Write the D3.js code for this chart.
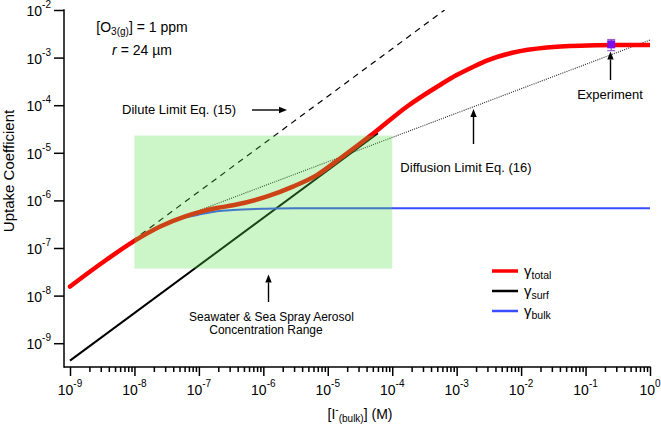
<!DOCTYPE html>
<html><head><meta charset="utf-8">
<script src="https://cdn.jsdelivr.net/npm/d3@7"></script>
<style>
body{margin:0;background:#fff}
svg{display:block}
text{font-family:"Liberation Sans",Arial,Helvetica,sans-serif;fill:#000}
</style>
</head><body>
<svg id="chart" width="661" height="431"></svg>
<script>
// ---------------- data ----------------
const xTickExponents = [-9,-8,-7,-6,-5,-4,-3,-2,-1,0];
const yTickExponents = [-9,-8,-7,-6,-5,-4,-3,-2];

// gamma_total (red)
const totalConc  = [1e-9, 3.16e-9, 1e-8, 2.51e-8, 6.31e-8, 1.05e-7, 1.9e-7, 3.39e-7, 1.12e-6, 2.88e-6, 6.76e-6, 1.55e-5, 5.13e-5, 1.68e-4, 5.5e-4, 1e-3, 1.82e-3, 3.16e-3, 7.6e-3, 2.51e-2, 8.2e-2, 0.316, 1];
const totalGamma = [1.55e-8, 4.9e-8, 1.41e-7, 2.82e-7, 4.68e-7, 5.75e-7, 6.92e-7, 7.9e-7, 1.2e-6, 1.95e-6, 3.4e-6, 7.6e-6, 2.57e-5, 9.3e-5, 2.66e-4, 4.3e-4, 6.45e-4, 9.0e-4, 1.28e-3, 1.63e-3, 1.78e-3, 1.83e-3, 1.84e-3];

// gamma_bulk (blue)
const bulkConc  = [1e-9, 3.16e-9, 1e-8, 2.51e-8, 6.31e-8, 1.05e-7, 1.9e-7, 3.39e-7, 1.12e-6, 3.16e-6, 1e-4, 1];
const bulkGamma = [1.55e-8, 4.9e-8, 1.38e-7, 2.75e-7, 4.4e-7, 5.1e-7, 5.9e-7, 6.3e-7, 6.7e-7, 6.84e-7, 6.84e-7, 6.84e-7];

// gamma_surf (black)
const surfConc  = [1e-9, 6e-5];
const surfGamma = [4.3e-10, 2.58e-5];

// Dilute limit Eq. (15) (dashed)
const diluteConc  = [1e-9, 6.5e-4];
const diluteGamma = [1.53e-8, 1e-2];

// Diffusion limit Eq. (16) (dotted)
const diffConc  = [7.8e-8, 1];
const diffGamma = [5.4e-7, 2.34e-3];

// Seawater & sea spray aerosol range (green box)
const seawaterConc  = [1e-8, 1e-4];
const seawaterGamma = [3.7e-8, 2.3e-5];

// Experiment
const expConc  = [0.25];
const expGamma = [1.9e-3];
const expErr   = [0.5e-3];

// ---------------- chart ----------------
const svg = d3.select("#chart");
const x = d3.scaleLog().domain([1e-9, 1]).range([70, 650]);
const y = d3.scaleLog().domain([Math.pow(10, -9.5), 1e-2]).range([367, 10]);
const X0 = 64, Y0 = 367;

const zip = (a, b) => a.map((v, i) => [v, b[i]]);
const line = d3.line().x(d => x(d[0])).y(d => y(d[1]));
const smooth = d3.line().x(d => x(d[0])).y(d => y(d[1])).curve(d3.curveMonotoneX);

svg.append("defs").append("clipPath").attr("id","clip")
  .append("rect").attr("x", X0).attr("y", 10).attr("width", 650 - X0).attr("height", Y0 - 10);
const plot = svg.append("g").attr("clip-path", "url(#clip)");

plot.append("path").datum(zip(diluteConc, diluteGamma)).attr("d", line)
  .attr("fill","none").attr("stroke","#000").attr("stroke-width",1.2).attr("stroke-dasharray","6,5");
plot.append("path").datum(zip(diffConc, diffGamma)).attr("d", line)
  .attr("fill","none").attr("stroke","#222").attr("stroke-width",1.1).attr("stroke-dasharray","1,1.2");
plot.append("path").datum(zip(surfConc, surfGamma)).attr("d", line)
  .attr("fill","none").attr("stroke","#000").attr("stroke-width",2);
plot.append("path").datum(zip(bulkConc, bulkGamma)).attr("d", smooth)
  .attr("fill","none").attr("stroke","#3a4cff").attr("stroke-width",2);
plot.append("path").datum(zip(totalConc, totalGamma)).attr("d", smooth)
  .attr("fill","none").attr("stroke","#ff0000").attr("stroke-width",4.5).attr("stroke-linecap","round");

// green range box (translucent, on top)
plot.append("rect")
  .attr("x", x(seawaterConc[0])).attr("y", y(seawaterGamma[1]))
  .attr("width", x(seawaterConc[1]) - x(seawaterConc[0]))
  .attr("height", y(seawaterGamma[0]) - y(seawaterGamma[1]))
  .attr("fill", "rgb(85,222,72)").attr("fill-opacity", 0.3);

// experiment point
const ex = svg.append("g");
expConc.forEach((c, i) => {
  const cx = x(c), cy = y(expGamma[i]);
  const yt = y(expGamma[i] + expErr[i]), yb = y(expGamma[i] - expErr[i]);
  ex.append("line").attr("x1",cx).attr("x2",cx).attr("y1",yt).attr("y2",yb).attr("stroke","#9a5cc8").attr("stroke-width",1.2);
  ex.append("line").attr("x1",cx-4).attr("x2",cx+4).attr("y1",yt).attr("y2",yt).attr("stroke","#9a5cc8").attr("stroke-width",1.2);
  ex.append("line").attr("x1",cx-4).attr("x2",cx+4).attr("y1",yb).attr("y2",yb).attr("stroke","#9a5cc8").attr("stroke-width",1.2);
  ex.append("rect").attr("x",cx-4).attr("y",cy-4).attr("width",8).attr("height",8).attr("fill","#7a10e6");
});

// ---------------- axes ----------------
const majorX = xTickExponents.map(e => Math.pow(10, e));
const minorX = [];
xTickExponents.slice(0, -1).forEach(e => { for (let m = 2; m <= 9; m++) minorX.push(m * Math.pow(10, e)); });

const gxMinor = svg.append("g").attr("transform", `translate(0,${Y0})`)
  .call(d3.axisBottom(x).tickValues(minorX).tickSize(5).tickFormat(""));
const gxMajor = svg.append("g").attr("transform", `translate(0,${Y0})`)
  .call(d3.axisBottom(x).tickValues(majorX).tickSize(9).tickFormat(""));
const majorY = yTickExponents.map(e => Math.pow(10, e));
const gy = svg.append("g").attr("transform", `translate(${X0},0)`)
  .call(d3.axisLeft(y).tickValues(majorY).tickSize(10).tickFormat(""));
[gxMinor, gxMajor, gy].forEach(g => {
  g.select(".domain").remove();
  g.selectAll(".tick line").attr("stroke","#000").attr("stroke-width",1.5);
});
svg.append("line").attr("x1",X0).attr("x2",650.75).attr("y1",Y0).attr("y2",Y0).attr("stroke","#000").attr("stroke-width",1.5);
svg.append("line").attr("x1",X0).attr("x2",X0).attr("y1",9.25).attr("y2",Y0+0.75).attr("stroke","#000").attr("stroke-width",1.5);

// tick labels
xTickExponents.forEach(e => {
  const t = svg.append("text").attr("x", x(Math.pow(10, e))).attr("y", 395)
    .attr("text-anchor","middle").style("font-size","14px");
  t.append("tspan").text("10");
  t.append("tspan").attr("dy", -8).style("font-size","10px").text(e === 0 ? "0" : "-" + Math.abs(e));
});
yTickExponents.forEach(e => {
  const t = svg.append("text").attr("x", 51).attr("y", y(Math.pow(10, e)) + 6)
    .attr("text-anchor","end").style("font-size","14px");
  t.append("tspan").text("10");
  t.append("tspan").attr("dy", -8).style("font-size","10px").text("-" + Math.abs(e));
});

// axis titles
svg.append("text").attr("transform","translate(13.5,171) rotate(-90)").attr("text-anchor","middle")
  .style("font-size","15px").text("Uptake Coefficient");
const xt = svg.append("text").attr("x", 360).attr("y", 419).attr("text-anchor","middle").style("font-size","14px");
xt.append("tspan").text("[I");
xt.append("tspan").attr("dy",-6).style("font-size","10px").text("-");
xt.append("tspan").attr("dy",9).style("font-size","10px").text("(bulk)");
xt.append("tspan").attr("dy",-3).text("] (M)");

// ---------------- annotations ----------------
const t1 = svg.append("text").attr("x",142).attr("y",32).attr("text-anchor","middle").style("font-size","14px");
t1.append("tspan").text("[O");
t1.append("tspan").attr("dy",3).style("font-size","10px").text("3(g)");
t1.append("tspan").attr("dy",-3).text("] = 1 ppm");
const t2 = svg.append("text").attr("x",142).attr("y",55).attr("text-anchor","middle").style("font-size","14px");
t2.append("tspan").style("font-style","italic").text("r");
t2.append("tspan").text(" = 24 \u00b5m");

svg.append("text").attr("x",122).attr("y",113.5).style("font-size","13px").text("Dilute Limit Eq. (15)");
svg.append("text").attr("x",466).attr("y",172).attr("text-anchor","middle").style("font-size","13px").text("Diffusion Limit Eq. (16)");
svg.append("text").attr("x",610).attr("y",98.5).attr("text-anchor","middle").style("font-size","13px").text("Experiment");
svg.append("text").attr("x",271.5).attr("y",320.5).attr("text-anchor","middle").style("font-size","12px").text("Seawater & Sea Spray Aerosol");
svg.append("text").attr("x",266).attr("y",333.5).attr("text-anchor","middle").style("font-size","12px").text("Concentration Range");

function arrow(x1, y1, x2, y2) {
  const ang = Math.atan2(y2 - y1, x2 - x1), L = 8, W = 3.2;
  const bx = x2 - L * Math.cos(ang), by = y2 - L * Math.sin(ang);
  svg.append("line").attr("x1",x1).attr("y1",y1).attr("x2",bx).attr("y2",by).attr("stroke","#000").attr("stroke-width",1.4);
  const px = -Math.sin(ang) * W, py = Math.cos(ang) * W;
  svg.append("path").attr("d",`M${x2},${y2}L${bx+px},${by+py}L${bx-px},${by-py}Z`).attr("fill","#000");
}
arrow(252,110,287,110);
arrow(473.5,144,473.5,109);
arrow(610.5,80,610.5,51.5);
arrow(268.5,302,268.5,274.5);

// ---------------- legend ----------------
const legendItems = [["total","#ff0000",3.5],["surf","#000",2.5],["bulk","#3a4cff",2.5]];
legendItems.forEach((d, i) => {
  const ly = 271 + i * 20;
  svg.append("line").attr("x1",492).attr("x2",518).attr("y1",ly).attr("y2",ly).attr("stroke",d[1]).attr("stroke-width",d[2]);
  const t = svg.append("text").attr("x",524).attr("y",ly+5).style("font-size","15px");
  t.append("tspan").text("\u03b3");
  t.append("tspan").attr("dy",3).style("font-size","10.5px").text(d[0]);
});
</script>
</body></html>
